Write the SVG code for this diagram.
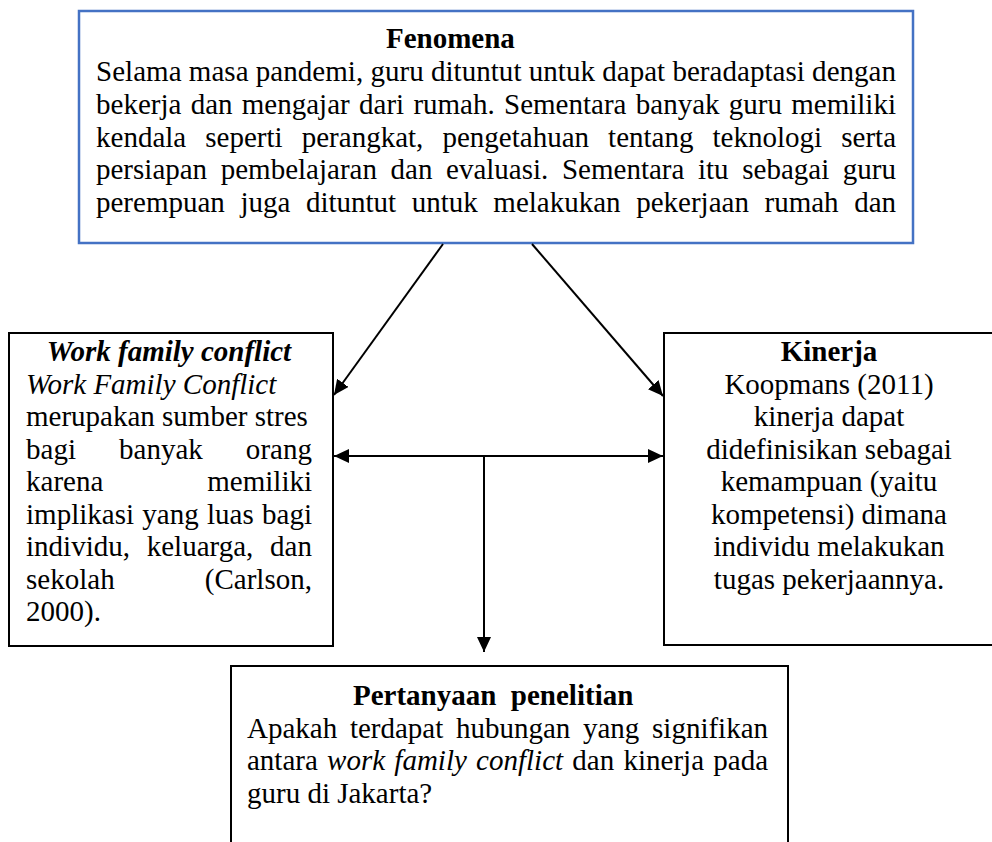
<svg xmlns="http://www.w3.org/2000/svg" width="992" height="842" viewBox="0 0 992 842">
<defs>
<style>
.t{font-family:"Liberation Serif","Times New Roman",serif;font-size:29px;fill:#000}
.b{font-weight:bold}
.i{font-style:italic}
.c{text-anchor:middle}
.box{fill:#fff;stroke:#000;stroke-width:2}
.blue{fill:#fff;stroke:#4472C4;stroke-width:2.5}
.ln{stroke:#000;stroke-width:2;fill:none}
</style>
<marker id="ah" markerUnits="userSpaceOnUse" markerWidth="16" markerHeight="14" refX="15" refY="7" orient="auto-start-reverse">
<path d="M0,0 L15,7 L0,14 z" fill="#000"/>
</marker>
</defs>
<rect width="992" height="842" fill="#fff"/>

<g id="fenomena">
<rect class="blue" x="79" y="11" width="834" height="232"/>
<text class="t b" x="386" y="48">Fenomena</text>
<text class="t" x="96" y="81" textLength="800" lengthAdjust="spacing">Selama masa pandemi, guru dituntut untuk dapat beradaptasi dengan</text>
<text class="t" x="96" y="114" textLength="800" lengthAdjust="spacing" style="word-spacing:2px">bekerja dan mengajar dari rumah. Sementara banyak guru memiliki</text>
<text class="t" x="96" y="146.5" textLength="800" lengthAdjust="spacing" style="word-spacing:11.8px">kendala seperti perangkat, pengetahuan tentang teknologi serta</text>
<text class="t" x="96" y="179" textLength="800" lengthAdjust="spacing" style="word-spacing:6.4px">persiapan pembelajaran dan evaluasi. Sementara itu sebagai guru</text>
<text class="t" x="96" y="212" textLength="800" lengthAdjust="spacing" style="word-spacing:8.3px">perempuan juga dituntut untuk melakukan pekerjaan rumah dan</text>
</g>

<g id="wfc">
<rect class="box" x="9" y="333" width="324" height="313"/>
<text class="t b i c" x="169" y="361">Work family conflict</text>
<text class="t i" x="26" y="393.5">Work Family Conflict</text>
<text class="t" x="26" y="426">merupakan sumber stres</text>
<text class="t" x="26" y="458.5" textLength="286" lengthAdjust="spacing" style="word-spacing:35.7px">bagi banyak orang</text>
<text class="t" x="26" y="491" textLength="286" lengthAdjust="spacing" style="word-spacing:96.7px">karena memiliki</text>
<text class="t" x="26" y="523.5" textLength="286" lengthAdjust="spacing" style="word-spacing:1px">implikasi yang luas bagi</text>
<text class="t" x="26" y="556" textLength="286" lengthAdjust="spacing" style="word-spacing:9.5px">individu, keluarga, dan</text>
<text class="t" x="26" y="588.5" textLength="286" lengthAdjust="spacing" style="word-spacing:82.7px">sekolah (Carlson,</text>
<text class="t" x="26" y="621">2000).</text>
</g>

<g id="kinerja">
<rect class="box" x="664" y="333" width="330" height="312"/>
<text class="t b c" x="829" y="361">Kinerja</text>
<text class="t c" x="829" y="393.5">Koopmans (2011)</text>
<text class="t c" x="829" y="426">kinerja dapat</text>
<text class="t c" x="829" y="458.5">didefinisikan sebagai</text>
<text class="t c" x="829" y="491">kemampuan (yaitu</text>
<text class="t c" x="829" y="523.5">kompetensi) dimana</text>
<text class="t c" x="829" y="556">individu melakukan</text>
<text class="t c" x="829" y="588.5">tugas pekerjaannya.</text>
</g>

<g id="pertanyaan">
<rect class="box" x="231" y="666" width="557" height="200"/>
<text class="t b" x="353" y="705" xml:space="preserve">Pertanyaan  penelitian</text>
<text class="t" x="247" y="738" textLength="521" lengthAdjust="spacing" style="word-spacing:5.5px">Apakah terdapat hubungan yang signifikan</text>
<text class="t" x="247" y="770" textLength="521" lengthAdjust="spacing" style="word-spacing:2px">antara <tspan class="i">work family conflict</tspan> dan kinerja pada</text>
<text class="t" x="247" y="803">guru di Jakarta?</text>
</g>

<g id="connectors">
<line class="ln" x1="443" y1="244" x2="334" y2="395" marker-end="url(#ah)"/>
<line class="ln" x1="532" y1="244" x2="663" y2="396" marker-end="url(#ah)"/>
<line class="ln" x1="334" y1="456" x2="663" y2="456" marker-start="url(#ah)" marker-end="url(#ah)"/>
<line class="ln" x1="484" y1="456" x2="484" y2="652" marker-end="url(#ah)"/>
</g>
</svg>
